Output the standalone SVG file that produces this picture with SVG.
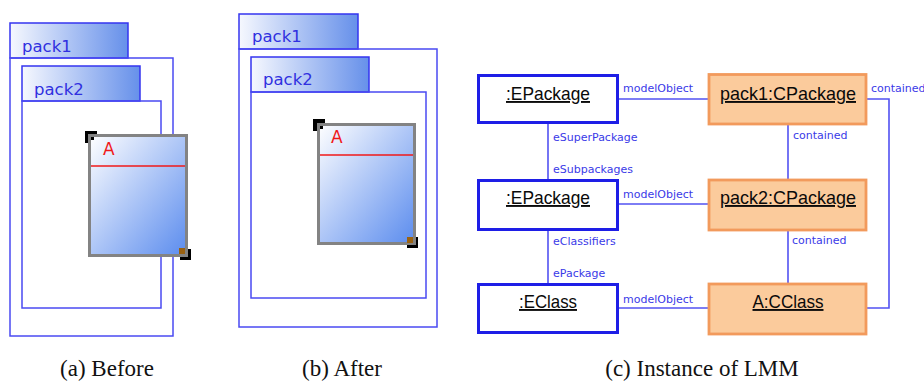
<svg xmlns="http://www.w3.org/2000/svg" width="924" height="382" viewBox="0 0 924 382">
  <defs>
    <linearGradient id="tabFill" x1="0" y1="0" x2="1" y2="0">
      <stop offset="0" stop-color="#f6f8fe"/>
      <stop offset="1" stop-color="#6690ea"/>
    </linearGradient>
    <linearGradient id="classFill" x1="0" y1="0" x2="1" y2="1">
      <stop offset="0" stop-color="#ffffff"/>
      <stop offset="1" stop-color="#5b8cee"/>
    </linearGradient>
  </defs>
  <style>
    .tab { fill: url(#tabFill); stroke: #3434f0; stroke-width: 1.5; }
    .body { fill: none; stroke: #4a4af2; stroke-width: 1.5; }
    .pname { font-family: "DejaVu Sans", sans-serif; font-size: 16.5px; fill: #3030e0; }
    .cls { fill: url(#classFill); stroke: #838383; stroke-width: 3; }
    .sep { stroke: #f01818; stroke-width: 1.3; }
    .cname { font-family: "DejaVu Sans", sans-serif; font-size: 17px; fill: #f01818; }
    .eobj { fill: #ffffff; stroke: #1e1ee6; stroke-width: 3; }
    .cobj { fill: #fbcb9c; stroke: #f29a5c; stroke-width: 2.8; }
    .oname { font-family: "Liberation Sans", Arial, sans-serif; font-size: 19px; fill: #0a0a0a; text-anchor: middle; text-decoration: underline; }
    .link { fill: none; stroke: #5252f2; stroke-width: 1.6; }
    .role { font-family: "DejaVu Sans", sans-serif; font-size: 11px; fill: #3a3ae8; }
    .caption { font-family: "Liberation Serif", "Times New Roman", serif; font-size: 23px; fill: #111111; text-anchor: middle; }
  </style>

  <!-- (a) Before -->
  <g id="before">
    <g id="a-pack1">
      <rect class="tab" x="10" y="23" width="118" height="35"/>
      <rect class="body" x="10" y="58" width="163" height="278"/>
      <text class="pname" x="22" y="52">pack1</text>
    </g>
    <g id="a-pack2">
      <rect class="tab" x="22" y="66" width="118" height="35"/>
      <rect class="body" x="22" y="101" width="139" height="207"/>
      <text class="pname" x="34" y="95">pack2</text>
    </g>
    <g id="a-classA">
      <rect x="85" y="131" width="12" height="12" fill="#000"/>
      <rect x="180" y="249" width="11" height="11" fill="#000"/>
      <rect class="cls" x="89.5" y="135.5" width="97" height="120"/>
      <line class="sep" x1="91" y1="166" x2="185" y2="166"/>
      <text class="cname" x="103" y="155">A</text>
      <rect x="91" y="137" width="3" height="3" fill="#000"/>
      <rect x="179" y="248" width="6" height="6" fill="#9a6212"/>
    </g>
  </g>

  <!-- (b) After -->
  <g id="after">
    <g id="b-pack1">
      <rect class="tab" x="239" y="14" width="119" height="35"/>
      <rect class="body" x="239" y="49" width="198" height="278"/>
      <text class="pname" x="252" y="42">pack1</text>
    </g>
    <g id="b-pack2">
      <rect class="tab" x="251" y="57" width="118" height="35"/>
      <rect class="body" x="251" y="92" width="175" height="206"/>
      <text class="pname" x="263" y="85">pack2</text>
    </g>
    <g id="b-classA">
      <rect x="313" y="119" width="12" height="12" fill="#000"/>
      <rect x="407" y="237" width="11" height="11" fill="#000"/>
      <rect class="cls" x="318.5" y="124.5" width="96" height="119"/>
      <line class="sep" x1="320" y1="155" x2="413" y2="155"/>
      <text class="cname" x="331" y="143">A</text>
      <rect x="320" y="126" width="3" height="3" fill="#000"/>
      <rect x="407" y="237" width="6" height="6" fill="#9a6212"/>
    </g>
  </g>

  <!-- (c) Instance of LMM -->
  <g id="connectors">
    <line class="link" x1="619" y1="99" x2="708" y2="99"/>
    <line class="link" x1="619" y1="204" x2="708" y2="204"/>
    <line class="link" x1="619" y1="308" x2="708" y2="308"/>
    <line class="link" x1="548" y1="124" x2="548" y2="179"/>
    <line class="link" x1="548" y1="231" x2="548" y2="283"/>
    <line class="link" x1="788" y1="125" x2="788" y2="179"/>
    <line class="link" x1="788" y1="231" x2="788" y2="283"/>
    <polyline class="link" points="867,99 889,99 889,308 867,308"/>
    <text class="role" x="623" y="92">modelObject</text>
    <text class="role" x="623" y="198">modelObject</text>
    <text class="role" x="623" y="303">modelObject</text>
    <text class="role" x="553" y="141">eSuperPackage</text>
    <text class="role" x="553" y="173">eSubpackages</text>
    <text class="role" x="553" y="245">eClassifiers</text>
    <text class="role" x="553" y="277">ePackage</text>
    <text class="role" x="793" y="139">contained</text>
    <text class="role" x="792" y="244">contained</text>
    <text class="role" x="871" y="92">contained</text>
  </g>
  <g id="epackage1">
    <rect class="eobj" x="478.5" y="75.5" width="139" height="47"/>
    <text class="oname" x="548" y="100" textLength="84" lengthAdjust="spacingAndGlyphs">:EPackage</text>
  </g>
  <g id="epackage2">
    <rect class="eobj" x="478.5" y="180.5" width="139" height="49"/>
    <text class="oname" x="548" y="204" textLength="84" lengthAdjust="spacingAndGlyphs">:EPackage</text>
  </g>
  <g id="eclass">
    <rect class="eobj" x="478.5" y="284.5" width="139" height="48"/>
    <text class="oname" x="548" y="308" textLength="58" lengthAdjust="spacingAndGlyphs">:EClass</text>
  </g>
  <g id="pack1-cpackage">
    <rect class="cobj" x="709" y="74.5" width="157" height="49.5"/>
    <text class="oname" x="788" y="100" textLength="136" lengthAdjust="spacingAndGlyphs">pack1:CPackage</text>
  </g>
  <g id="pack2-cpackage">
    <rect class="cobj" x="709" y="180" width="157" height="50"/>
    <text class="oname" x="788" y="204" textLength="136" lengthAdjust="spacingAndGlyphs">pack2:CPackage</text>
  </g>
  <g id="a-cclass">
    <rect class="cobj" x="709" y="284" width="157" height="50"/>
    <text class="oname" x="788" y="308" textLength="71" lengthAdjust="spacingAndGlyphs">A:CClass</text>
  </g>

  <g id="captions">
    <text class="caption" x="107" y="376">(a) Before</text>
    <text class="caption" x="342" y="376">(b) After</text>
    <text class="caption" x="702" y="376">(c) Instance of LMM</text>
  </g>
</svg>
